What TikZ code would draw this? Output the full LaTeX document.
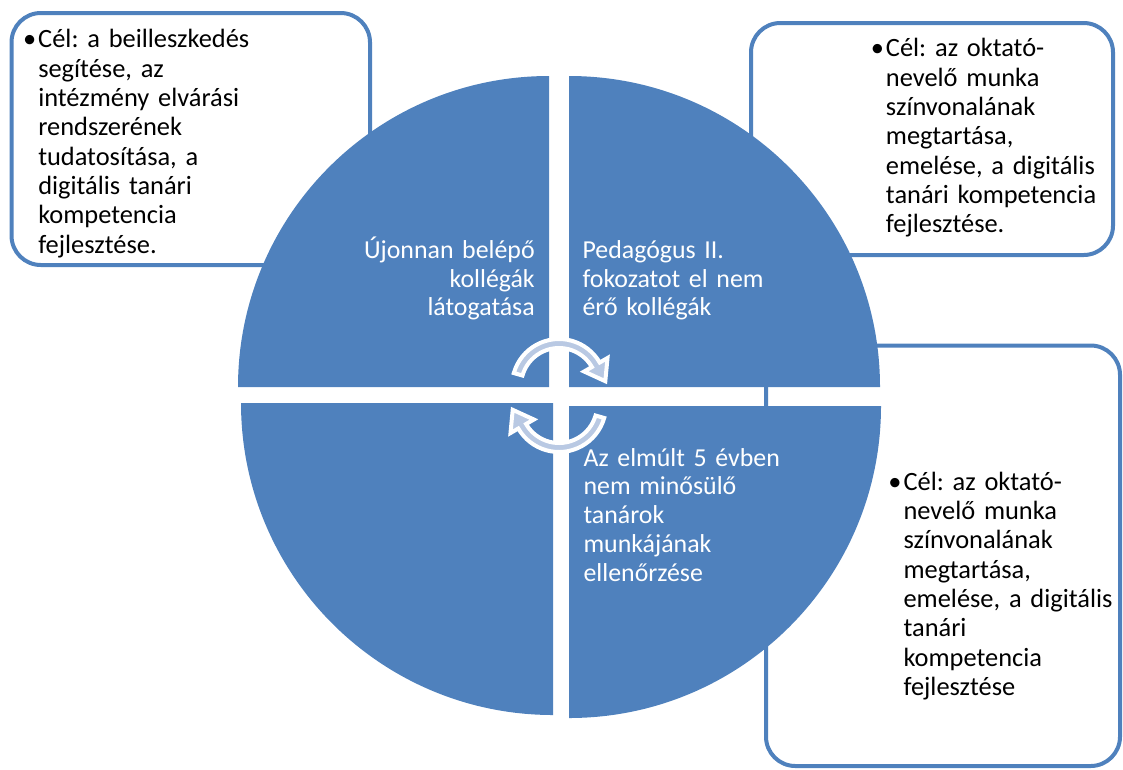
\documentclass[tikz,border=0pt]{standalone}
\usepackage{fontspec}
\setmainfont{Carlito}
\usetikzlibrary{calc}
\definecolor{qblue}{RGB}{79,129,189}
\definecolor{arrowfill}{RGB}{185,201,227}
\frenchspacing
\begin{document}
\begin{tikzpicture}[x=0.75pt,y=0.75pt,
  quad/.style={fill=qblue},
  goalbox/.style={draw=qblue, line width=3pt, rounded corners=22pt, fill=white},
  boxtext/.style={anchor=base west, inner sep=0pt, align=left, text width=#1,
    font=\fontsize{19.8}{22}\selectfont, text=black},
  circtext/.style={inner sep=0pt, text width=160pt,
    font=\fontsize{19.4}{21.6}\selectfont, text=white},
  cyc/.style={fill=arrowfill, draw=white, line width=3pt, line join=miter}]

\useasboundingbox (0,0) rectangle (1123,-769);

% goal boxes (behind the circle)
\draw[goalbox] (11.5,-13) rectangle (370,-265);
\draw[goalbox] (751,-23) rectangle (1113,-255);
\draw[goalbox] (766,-345.5) rectangle (1120,-766);

% four quadrants
\fill[quad] (549,-387) -- (238,-387) arc[start angle=180, end angle=90, radius=311] -- cycle;
\fill[quad] (569,-387) -- (880,-387) arc[start angle=0, end angle=90, radius=311] -- cycle;
\fill[quad] (553,-403) -- (241,-403) arc[start angle=180, end angle=270, radius=312] -- cycle;
\fill[quad] (569,-406) -- (881,-406) arc[start angle=0, end angle=-90, radius=312] -- cycle;

% cycle arrows
\coordinate (U) at (559,-386);
\coordinate (L) at (559,-405);
\path[cyc] ($(U)+(164:47)$) arc[start angle=164, end angle=30, radius=47]
  -- ($(U)+(30:56)$) -- ($(U)+(30:42.5)+(-60:19)$) -- ($(U)+(30:29)$)
  -- ($(U)+(30:38)$) arc[start angle=30, end angle=164, radius=38] -- cycle;
\path[cyc] ($(L)+(344:47)$) arc[start angle=344, end angle=210, radius=47]
  -- ($(L)+(210:56)$) -- ($(L)+(210:42.5)+(120:19)$) -- ($(L)+(210:29)$)
  -- ($(L)+(210:38)$) arc[start angle=210, end angle=344, radius=38] -- cycle;

% quadrant texts
\node[circtext, anchor=base east, align=right] (q1) at (535,-258.3)
  {Újonnan belépő\\kollégák\\látogatása};
\node[circtext, anchor=base west, align=left] (q2) at (582.3,-258.3)
  {Pedagógus II.\\fokozatot el nem\\érő kollégák};
\node[circtext, anchor=base west, align=left] (q4) at (583.3,-466)
  {Az elmúlt 5 évben\\nem minősülő\\tanárok\\munkájának\\ellenőrzése};

% box texts
\node[boxtext=250pt] (g1) at (38,-47.7)
  {\llap{•\hspace{1.5pt}}Cél: a beilleszkedés\\segítése, az\\intézmény elvárási\\rendszerének\\tudatosítása, a\\digitális tanári\\kompetencia\\fejlesztése.};
\node[boxtext=200pt] (g2) at (885.7,-56.7)
  {\llap{•\hspace{1.5pt}}Cél: az oktató-\\nevelő munka\\színvonalának\\megtartása,\\emelése, a digitális\\tanári kompetencia\\fejlesztése.};
\node[boxtext=200pt] (g3) at (903.3,-490)
  {\llap{•\hspace{1.5pt}}Cél: az oktató-\\nevelő munka\\színvonalának\\megtartása,\\emelése, a digitális\\tanári\\kompetencia\\fejlesztése};
\end{tikzpicture}
\end{document}
